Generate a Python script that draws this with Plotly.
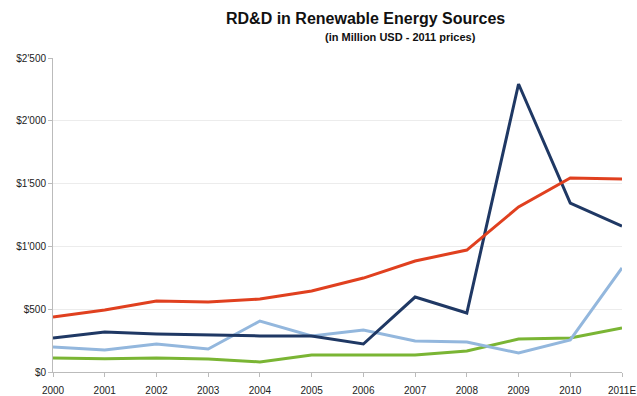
import plotly.graph_objects as go

years = ["2000", "2001", "2002", "2003", "2004", "2005", "2006", "2007", "2008", "2009", "2010", "2011E"]
red_series = [438, 494, 565, 557, 581, 645, 748, 884, 971, 1314, 1545, 1537]
navy_series = [271, 318, 303, 295, 287, 287, 223, 597, 470, 2293, 1345, 1162]
lightblue_series = [199, 175, 223, 183, 406, 287, 334, 247, 239, 151, 255, 828]
green_series = [111, 105, 111, 103, 80, 135, 135, 135, 167, 263, 271, 350]

y_tickvals = [0, 500, 1000, 1500, 2000, 2500]
y_ticktext = ["$0", "$500", "$1'000", "$1'500", "$2'000", "$2'500"]

fig = go.Figure()
series = [
    (green_series, "#7ab534"),
    (lightblue_series, "#93b7dd"),
    (navy_series, "#1f3864"),
    (red_series, "#e0401f"),
]
for vals, col in series:
    fig.add_trace(go.Scatter(x=years, y=vals, mode="lines",
                             line=dict(color=col, width=3), showlegend=False))

fig.update_layout(
    width=637, height=396,
    margin=dict(l=53, r=15, t=58, b=24),
    paper_bgcolor="white", plot_bgcolor="white",
    font=dict(family="Liberation Sans, Arial, sans-serif", color="#222"),
    annotations=[
        dict(text="<b>RD&D in Renewable Energy Sources</b>", x=365, y=18,
             xref="paper", yref="paper", showarrow=False, font=dict(size=16, color="#111")),
        dict(text="<b>(in Million USD - 2011 prices)</b>", x=400, y=37,
             xref="paper", yref="paper", showarrow=False, font=dict(size=11, color="#111")),
    ],
)
# convert pixel positions to paper coords
for a in fig.layout.annotations:
    px, py = a.x, a.y
    a.x = (px - 53) / (637 - 53 - 15)
    a.y = 1 + (58 - py) / (396 - 58 - 24)
    a.xanchor = "center"
    a.yanchor = "middle"

fig.update_xaxes(type="category", range=[0, 11], showline=True, linecolor="#bbbbbb",
                 linewidth=1, ticks="outside", ticklen=4, tickcolor="#bbbbbb",
                 ticklabelstandoff=5, automargin=False,
                 showgrid=False, tickfont=dict(size=10, color="#222"), fixedrange=True)
fig.update_yaxes(range=[0, 2500], tickvals=y_tickvals, ticktext=y_ticktext,
                 showline=True, linecolor="#bbbbbb", linewidth=1, ticks="outside",
                 ticklen=4, tickcolor="#bbbbbb", showgrid=True, gridcolor="#ececec",
                 gridwidth=1, zeroline=False, automargin=False,
                 tickfont=dict(size=10, color="#222"))

fig.write_html("out.html")
